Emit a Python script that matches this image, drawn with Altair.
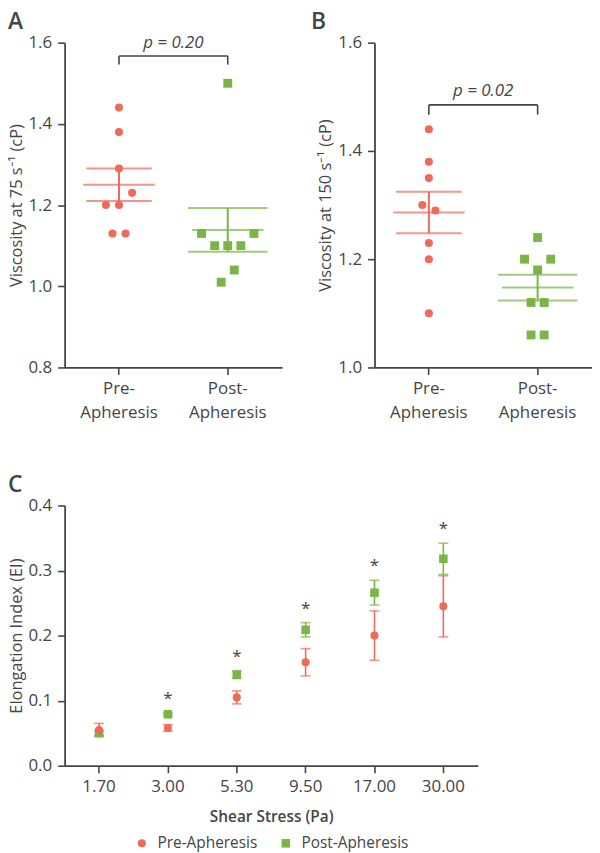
import altair as alt
import pandas as pd

FONT = "Open Sans"
INK = "#454545"
RED = "#EF6A5B"
GREEN = "#7AB545"

groups = ["Pre-Apheresis", "Post-Apheresis"]
group_colors = [RED, GREEN]
group_shapes = ["circle", "square"]

# ---------------- Panel A: viscosity at 75 s-1 ----------------
a_pre = [1.44, 1.38, 1.29, 1.23, 1.20, 1.20, 1.13, 1.13]
a_post = [1.50, 1.13, 1.13, 1.10, 1.10, 1.10, 1.04, 1.01]
# swarm slot of each point (in half point-widths, as in the reference layout)
a_pre_slot = [0, 0, 0, 2, -2, 0, -1, 1]
a_post_slot = [0, -4, 4, -2, 0, 2, 1, -1]
a_p_label = "p = 0.20"
a_ticks = [0.8, 1.0, 1.2, 1.4, 1.6]

# ---------------- Panel B: viscosity at 150 s-1 ----------------
b_pre = [1.44, 1.38, 1.35, 1.30, 1.29, 1.23, 1.20, 1.10]
b_post = [1.24, 1.20, 1.20, 1.18, 1.12, 1.12, 1.06, 1.06]
b_pre_slot = [0, 0, 0, -1, 1, 0, 0, 0]
b_post_slot = [0, -2, 2, 0, -1, 1, -1, 1]
b_p_label = "p = 0.02"
b_ticks = [1.0, 1.2, 1.4, 1.6]

# ---------------- Panel C: elongation index ----------------
shear = ["1.70", "3.00", "5.30", "9.50", "17.00", "30.00"]
ei_pre_mean = [0.055, 0.058, 0.105, 0.159, 0.200, 0.245]
ei_pre_sem = [0.010, 0.005, 0.010, 0.021, 0.038, 0.047]
ei_post_mean = [0.050, 0.079, 0.140, 0.209, 0.266, 0.318]
ei_post_sem = [0.003, 0.002, 0.006, 0.011, 0.019, 0.024]
significant = [False, True, True, True, True, True]
c_ticks = [0.0, 0.1, 0.2, 0.3, 0.4]

TOP_W, TOP_H = 219, 327
C_W, C_H = 416, 262
TITLE_OFFSET = 0

color_scale = alt.Scale(domain=groups, range=group_colors)
shape_scale = alt.Scale(domain=groups, range=group_shapes)


def swarm_panel(letter, pre, post, pre_slot, post_slot, ytitle, ydomain, yticks,
                p_label, p_y, br_top, br_bottom, title_dx):
    df = pd.DataFrame({
        "group": [groups[0]] * len(pre) + [groups[1]] * len(post),
        "value": pre + post,
        "slot": pre_slot + post_slot,
    })
    x_scale = alt.Scale(domain=groups, paddingInner=0, paddingOuter=0)
    x_axis = alt.Axis(title=None, labelAngle=0, labelLineHeight=24, labelPadding=6,
                      labelFontSize=17,
                      labelExpr="split(replace(datum.label, '-', '-|'), '|')")
    y_scale = alt.Scale(domain=ydomain, nice=False, zero=False)
    y_axis = alt.Axis(title=ytitle, values=yticks, format=".1f")

    def X(field="group"):
        return alt.X(f"{field}:N", scale=x_scale, axis=x_axis, sort=groups)

    def Y(field):
        return alt.Y(f"{field}:Q", scale=y_scale, axis=y_axis)

    color = alt.Color("group:N", scale=color_scale, legend=None)
    base = alt.Chart(df)

    points = base.mark_point(filled=True, opacity=1).encode(
        x=X(), y=Y("value"),
        xOffset=alt.XOffset("slot:Q", scale=alt.Scale(domain=[-8.3, 8.3])),
        color=color,
        shape=alt.Shape("group:N", scale=shape_scale, legend=None),
        size=alt.Size("group:N", scale=alt.Scale(domain=groups, range=[66, 80]), legend=None),
    )

    stats = base.transform_aggregate(
        mean="mean(value)", se="stderr(value)", groupby=["group"]
    ).transform_calculate(lo="datum.mean - datum.se", hi="datum.mean + datum.se")

    mean_line = stats.mark_tick(thickness=2, size=72).encode(x=X(), y=Y("mean"), color=color)
    sem_rule = stats.mark_rule(strokeWidth=2).encode(x=X(), y=Y("lo"), y2="hi:Q", color=color)
    caps = stats.transform_fold(["lo", "hi"], as_=["end", "cap"]).mark_tick(thickness=2).encode(
        x=X(), y=Y("cap"), color=color,
        size=alt.Size("group:N", scale=alt.Scale(domain=groups, range=[18, 36]), legend=None),
    )

    br = pd.DataFrame({"group": [groups[0]], "group2": [groups[1]],
                       "top": [br_top], "bottom": [br_bottom], "py": [p_y], "label": [p_label]})
    br_h = alt.Chart(br).mark_rule(color=INK, strokeWidth=1.6).encode(
        x=X(), x2="group2:N", y=Y("top"))
    br_legs = alt.Chart(br).transform_fold(["group", "group2"], as_=["which", "leg"]).mark_rule(
        color=INK, strokeWidth=1.6).encode(x=X("leg"), y=Y("top"), y2="bottom:Q")
    p_text = alt.Chart(br).mark_text(font=FONT, fontSize=17, fontStyle="italic", color=INK,
                                     baseline="middle", dx=TOP_W / 4).encode(
        x=X(), y=Y("py"), text="label:N")

    return alt.layer(br_h, br_legs, p_text, points, mean_line, sem_rule, caps).properties(
        width=TOP_W, height=TOP_H,
        title=alt.TitleParams(letter, anchor="start", frame="bounds", fontSize=23,
                              fontWeight=600, color=INK, font=FONT, offset=TITLE_OFFSET,
                              dx=title_dx),
    )


panel_a = swarm_panel("A", a_pre, a_post, a_pre_slot, a_post_slot,
                      "Viscosity at 75 s\u207b\u00b9 (cP)", [0.8, 1.6], a_ticks,
                      a_p_label, 1.598, 1.567, 1.546, 0)
panel_b = swarm_panel("B", b_pre, b_post, b_pre_slot, b_post_slot,
                      "Viscosity at 150 s\u207b\u00b9 (cP)", [1.0, 1.6], b_ticks,
                      b_p_label, 1.511, 1.485, 1.467, -7)

# ---------- Panel C ----------
rows = []
for gi in (1, 0):  # post first so pre is drawn on top
    means = ei_post_mean if gi == 1 else ei_pre_mean
    sems = ei_post_sem if gi == 1 else ei_pre_sem
    for i, s in enumerate(shear):
        rows.append({"stress": s, "group": groups[gi], "mean": means[i],
                     "sem": sems[i], "sig": significant[i]})
cdf = pd.DataFrame(rows)

cx = alt.X("stress:N", sort=shear,
           scale=alt.Scale(domain=shear, paddingInner=0, paddingOuter=0),
           axis=alt.Axis(title="Shear Stress (Pa)", labelAngle=0, labelPadding=6,
                         titlePadding=15, titleFontSize=15.5, titleFontWeight=600))
c_y_scale = alt.Scale(domain=[0, 0.4], nice=False)
c_y_axis = alt.Axis(title="Elongation Index (EI)", values=c_ticks, format=".1f")


def CY(field):
    return alt.Y(f"{field}:Q", scale=c_y_scale, axis=c_y_axis)


legend = alt.Legend(orient="none", direction="horizontal", title=None, legendX=70, legendY=332,
                    labelFont=FONT, labelFontSize=15.5, labelColor=INK, symbolSize=64,
                    symbolOpacity=1, symbolStrokeWidth=0, labelOffset=8, columnPadding=20,
                    padding=0)
ccolor = alt.Color("group:N", scale=color_scale, legend=legend)

cbase = alt.Chart(cdf).transform_calculate(
    lo="datum.mean - datum.sem", hi="datum.mean + datum.sem")

c_err = cbase.mark_rule(strokeWidth=1.6).encode(x=cx, y=CY("lo"), y2="hi:Q", color=ccolor)
c_caps = cbase.transform_fold(["lo", "hi"], as_=["end", "cap"]).mark_tick(
    thickness=1.6, size=10).encode(x=cx, y=CY("cap"), color=ccolor)
c_pts = cbase.mark_point(filled=True, opacity=1).encode(
    x=cx, y=CY("mean"),
    color=ccolor,
    shape=alt.Shape("group:N", scale=shape_scale, legend=legend),
    size=alt.Size("group:N", scale=alt.Scale(domain=groups, range=[66, 74]), legend=None),
)
c_stars = cbase.transform_filter(
    (alt.datum.group == groups[1]) & alt.datum.sig
).mark_text(text="*", font=FONT, fontSize=17, color=INK, baseline="middle", dy=-14).encode(
    x=cx, y=CY("hi"))

panel_c = alt.layer(c_err, c_caps, c_pts, c_stars).properties(
    width=C_W, height=C_H,
    title=alt.TitleParams("C", anchor="start", frame="bounds", fontSize=23, fontWeight=600,
                          color=INK, font=FONT, offset=TITLE_OFFSET),
)

top = alt.hconcat(panel_a, panel_b, spacing=93, bounds="flush")
bottom = alt.hconcat(panel_c)
chart = alt.vconcat(top, bottom, spacing=54).resolve_scale(
    color="independent", shape="independent", size="independent"
).properties(
    padding={"left": 0, "top": 0, "right": 0, "bottom": 0}
).configure_view(stroke=None).configure_axis(
    domainColor=INK, domainWidth=1.8, tickColor=INK, tickWidth=1.6, tickSize=7,
    labelFont=FONT, labelFontSize=17, labelColor=INK, labelPadding=6,
    titleFont=FONT, titleFontSize=16.5, titleColor=INK, titleFontWeight=500,
    grid=False,
).configure_legend(
    labelFont=FONT, labelFontSize=15.5, labelColor=INK, symbolOpacity=1,
)

chart.save("out.html", embed_options={"renderer": "svg", "actions": False})
